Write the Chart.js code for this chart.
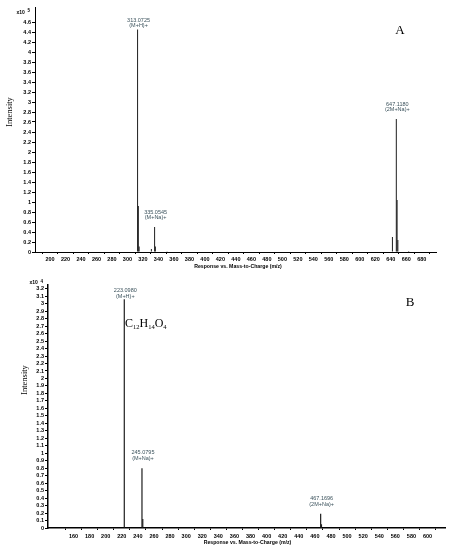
<!DOCTYPE html>
<html>
<head>
<meta charset="utf-8">
<script src="https://cdn.jsdelivr.net/npm/chart.js@4.4.1/dist/chart.umd.min.js"></script>
<style>
  body { margin: 0; background: #fff; }
  #wrap { position: relative; width: 453px; height: 550px; }
  canvas { position: absolute; left: 0; }
</style>
</head>
<body>
<div id="wrap">
  <canvas id="chartA" width="453" height="275" style="top:0"></canvas>
  <canvas id="chartB" width="453" height="275" style="top:275px"></canvas>
</div>
<script>
// Panel A - m/z and intensity (x10^5)
const mzA = [313.0725, 314.0759, 315.08, 330.9, 335.0545, 336.058, 351.1, 642.1, 647.1180, 648.121, 649.12, 663.1];
const intA = [4.45, 0.92, 0.11, 0.06, 0.50, 0.11, 0.015, 0.30, 2.66, 1.04, 0.24, 0.02];
const peakTextA = ['313.0725', '335.0545', '647.1180'];
const peakIonA = ['(M+H)+', '(M+Na)+', '(2M+Na)+'];
const peakMzA = [313.0725, 335.0545, 647.1180];
const peakIntA = [4.45, 0.50, 2.66];
const xTicksA = [200, 220, 240, 260, 280, 300, 320, 340, 360, 380, 400, 420, 440, 460, 480, 500, 520, 540, 560, 580, 600, 620, 640, 660, 680];
const yTicksA = [0, 0.2, 0.4, 0.6, 0.8, 1, 1.2, 1.4, 1.6, 1.8, 2, 2.2, 2.4, 2.6, 2.8, 3, 3.2, 3.4, 3.6, 3.8, 4, 4.2, 4.4, 4.6];

// Panel B - m/z and intensity (x10^4)
const mzB = [223.0980, 245.0795, 246.08, 467.1696, 468.17];
const intB = [3.06, 0.80, 0.12, 0.19, 0.05];
const peakTextB = ['223.0980', '245.0795', '467.1696'];
const peakIonB = ['(M+H)+', '(M+Na)+', '(2M+Na)+'];
const peakMzB = [223.0980, 245.0795, 467.1696];
const peakIntB = [3.06, 0.80, 0.19];
const xTicksB = [160, 180, 200, 220, 240, 260, 280, 300, 320, 340, 360, 380, 400, 420, 440, 460, 480, 500, 520, 540, 560, 580, 600];
const yTicksB = [0, 0.1, 0.2, 0.3, 0.4, 0.5, 0.6, 0.7, 0.8, 0.9, 1, 1.1, 1.2, 1.3, 1.4, 1.5, 1.6, 1.7, 1.8, 1.9, 2, 2.1, 2.2, 2.3, 2.4, 2.5, 2.6, 2.7, 2.8, 2.9, 3, 3.1, 3.2];

const tickFont = { family: 'Liberation Sans, Arial', size: 5.5, weight: 'bold' };

function fmt(v) {
    return String(+Number(v).toFixed(1));
}

function makeChart(id, cfg) {
    const ctx = document.getElementById(id).getContext('2d');
    const points = cfg.mz.map((m, i) => ({ x: m, y: cfg.int[i] }));

    // draws peak labels and panel texts
    const textPlugin = {
        id: 'texts',
        afterDraw(chart) {
            const c = chart.ctx;
            const xs = chart.scales.x, ys = chart.scales.y;
            c.save();
            c.fillStyle = '#3b525c';
            c.font = '5.5px "Liberation Sans", Arial';
            c.textAlign = 'center';
            c.textBaseline = 'middle';
            cfg.peakMz.forEach((m, i) => {
                const px = xs.getPixelForValue(m);
                const py = ys.getPixelForValue(cfg.peakInt[i]);
                const y2 = py - cfg.gap[i];
                c.fillText(cfg.peakText[i], px + 1, y2 - cfg.lineGap);
                c.fillText(cfg.peakIon[i], px + 1, y2);
            });

            c.fillStyle = '#000';
            // multiplier
            c.textAlign = 'left';
            c.font = 'bold 5px "Liberation Sans", Arial';
            c.fillText('x10', cfg.mult[0], cfg.mult[1]);
            c.font = 'bold 4.5px "Liberation Sans", Arial';
            c.fillText(cfg.mult[2], cfg.mult[0] + 11, cfg.mult[1] - 1.5);

            // y title
            c.save();
            c.translate(cfg.ytitle[0], cfg.ytitle[1]);
            c.rotate(-Math.PI / 2);
            c.textAlign = 'center';
            c.font = '8.5px "Liberation Serif", "Times New Roman"';
            c.fillText('Intensity', 0, 0);
            c.restore();

            // x title
            c.textAlign = 'center';
            c.font = 'bold 5.2px "Liberation Sans", Arial';
            c.fillText('Response vs. Mass-to-Charge (m/z)', cfg.xtitle[0], cfg.xtitle[1]);

            // panel letter
            c.font = '13px "Liberation Serif", "Times New Roman"';
            c.fillText(cfg.letter, cfg.letterPos[0], cfg.letterPos[1]);

            if (cfg.formula) {
                let x = cfg.formula[0];
                const y = cfg.formula[1];
                c.textAlign = 'left';
                [['C', 0], ['12', 1], ['H', 0], ['14', 1], ['O', 0], ['4', 1]].forEach(p => {
                    c.font = p[1] ? '6.5px "Liberation Serif", "Times New Roman"' : '12px "Liberation Serif", "Times New Roman"';
                    const yy = p[1] ? y + 3.5 : y;
                    c.fillText(p[0], x, yy);
                    x += c.measureText(p[0]).width;
                });
            }
            c.restore();
        }
    };

    return new Chart(ctx, {
        type: 'bar',
        data: {
            datasets: [{
                data: points,
                backgroundColor: '#1e1e1e',
                borderWidth: 0,
                inflateAmount: 0,
                barThickness: cfg.barW
            }]
        },
        options: {
            responsive: false,
            animation: false,
            devicePixelRatio: 1,
            layout: { padding: cfg.pad },
            plugins: { legend: { display: false }, tooltip: { enabled: false } },
            scales: {
                x: {
                    type: 'linear',
                    min: cfg.xmin,
                    max: cfg.xmax,
                    afterBuildTicks: s => { s.ticks = cfg.xTicks.map(v => ({ value: v })); },
                    afterFit: s => { s.height = cfg.xh; },
                    grid: { drawOnChartArea: false, tickLength: 2, color: '#000' },
                    border: { color: '#000', width: cfg.axisW },
                    ticks: { font: tickFont, color: '#000', padding: cfg.xpad, maxRotation: 0, autoSkip: false, callback: v => fmt(v) }
                },
                y: {
                    min: 0,
                    max: cfg.ymax,
                    afterBuildTicks: s => { s.ticks = cfg.yTicks.map(v => ({ value: v })); },
                    afterFit: s => { s.width = cfg.yw; },
                    grid: { drawOnChartArea: false, tickLength: 3, color: '#000' },
                    border: { color: '#000', width: cfg.axisW },
                    ticks: { font: tickFont, color: '#000', padding: 1, autoSkip: false, callback: v => fmt(v) }
                }
            }
        },
        plugins: [textPlugin]
    });
}

makeChart('chartA', {
    mz: mzA, int: intA,
    peakMz: peakMzA, peakInt: peakIntA, peakText: peakTextA, peakIon: peakIonA,
    gap: [4, 9.5, 10], lineGap: 5,
    xTicks: xTicksA, yTicks: yTicksA,
    xmin: 191, xmax: 688, ymax: 4.9,
    pad: { top: 7, right: 17, left: 0, bottom: 0 },
    yw: 35, xh: 23, xpad: 2, axisW: 1, barW: 1,
    mult: [16.5, 12.5, '5'], ytitle: [10, 112], xtitle: [238, 267],
    letter: 'A', letterPos: [400, 31]
});

makeChart('chartB', {
    mz: mzB, int: intB,
    peakMz: peakMzB, peakInt: peakIntB, peakText: peakTextB, peakIon: peakIonB,
    gap: [2.5, 9.3, 9.3], lineGap: 6,
    xTicks: xTicksB, yTicks: yTicksB,
    xmin: 139, xmax: 611, ymax: 3.25,
    pad: { top: 10, right: 8, left: 0, bottom: 0 },
    yw: 48, xh: 22, xpad: 3, axisW: 1.5, barW: 1.2,
    mult: [29.5, 7.8, '4'], ytitle: [25, 105], xtitle: [247.5, 267.3],
    letter: 'B', letterPos: [410, 28],
    formula: [125, 49]
});
</script>
</body>
</html>
